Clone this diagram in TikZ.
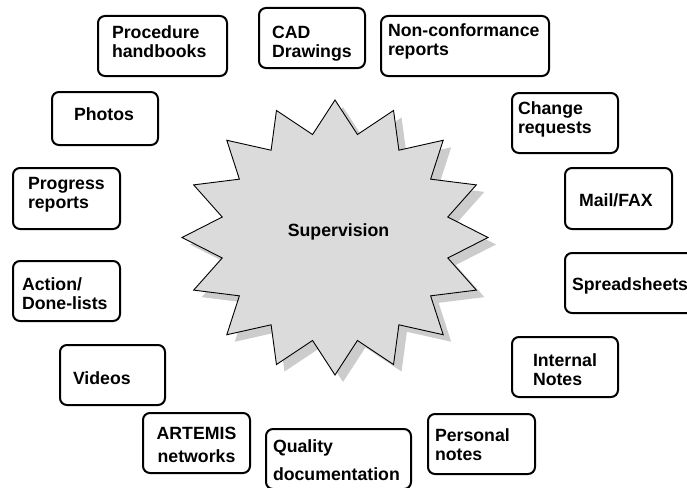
\documentclass[tikz,border=0pt]{standalone}
\usepackage{fontspec}
\setmainfont{Liberation Sans}
\usetikzlibrary{shadows}
\hyphenpenalty=10000
\exhyphenpenalty=10000

\begin{document}
\begin{tikzpicture}[x=1pt, y=-1pt,
    doc/.style={draw, line width=2pt, rounded corners=7pt, inner sep=0pt,
      align=left, font={\fontsize{17.7}{19}\selectfont\bfseries}, text height=20pt},
    burst/.style={draw, line width=0.9pt, fill=gray!28,
      drop shadow={shadow xshift=8pt, shadow yshift=-7pt, fill=gray!40, opacity=1}}]
  \useasboundingbox (0,0) rectangle (687,487);
  % the star in the middle
  \draw[burst, shift={(335,237.5)}] (90:153 and 137.5)
    \foreach \k in {0,...,15} {
      -- ({101.25+\k*22.5}:115 and 105) -- ({112.5+\k*22.5}:153 and 137.5)
    } -- cycle;
  \node[font={\fontsize{17.7}{19}\selectfont\bfseries}, anchor=base] (centre) at (338.5,236.7) {Supervision};
  % documents round it
  \node[doc, minimum width=129, minimum height=60, text width=101pt, text depth=36pt] (proc) at (162.5,46) {Procedure\\handbooks};
  \node[doc, minimum width=106, minimum height=60, text width=80pt, text depth=19pt] (cad) at (312,38) {CAD\\Drawings};
  \node[doc, minimum width=168, minimum height=60, text width=154pt, text depth=38pt] (ncr) at (465,46) {Non-conformance\\reports};
  \node[doc, minimum width=106, minimum height=53, text width=62pt, text depth=16pt] (photos) at (105,118.5) {Photos};
  \node[doc, minimum width=106, minimum height=60, text width=94pt, text depth=37pt] (change) at (565,123) {Change\\requests};
  \node[doc, minimum width=107, minimum height=61, text width=77pt, text depth=38pt] (progress) at (66.5,198.5) {Progress\\reports};
  \node[doc, minimum width=107, minimum height=61, text width=79pt, text depth=4pt] (mail) at (618.5,198.5) {Mail/FAX};
  \node[doc, minimum width=107, minimum height=60, text width=89pt, text depth=22pt] (action) at (66.5,291) {Action/\\Done-lists};
  \node[doc, minimum width=131, minimum height=60, text width=117pt, text depth=5pt] (sheets) at (630.5,283) {Spreadsheets};
  \node[doc, minimum width=105, minimum height=60, text width=79pt, text depth=2pt] (videos) at (112.5,375) {Videos};
  \node[doc, minimum width=106, minimum height=60, text width=64pt, text depth=21pt] (internal) at (565,367) {Internal\\Notes};
  \node[doc, minimum width=107, minimum height=60, text width=82pt, text depth=27pt, align=center] (artemis) at (196.5,443) {ARTEMIS\\[3.5pt]networks};
  \node[doc, minimum width=145, minimum height=60, text width=131pt, text depth=34pt] (quality) at (338.5,459) {Quality\\[9pt]documentation};
  \node[doc, minimum width=107, minimum height=60, text width=93pt, text depth=25pt] (personal) at (481.5,444) {Personal\\notes};
\end{tikzpicture}
\end{document}
